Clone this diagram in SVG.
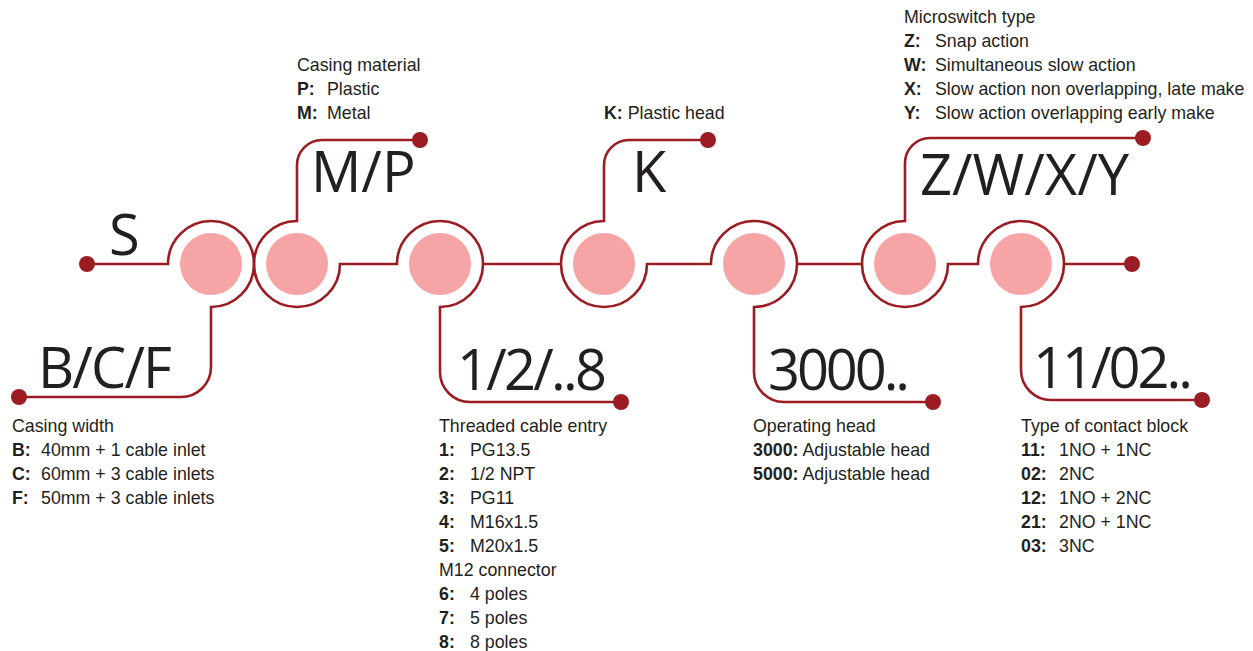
<svg xmlns="http://www.w3.org/2000/svg" width="1253" height="651" viewBox="0 0 1253 651">
  <style>
    .wire { fill: none; stroke: #9b1c23; stroke-width: 2.6; }
    .dot { fill: #9b1c23; }
    .core { fill: #f6a4a6; }
    .code { font-family: "Open Sans", "Liberation Sans", sans-serif; font-size: 56px; fill: #231f20; }
    .desc { font-family: "Liberation Sans", Arial, sans-serif; font-size: 17.8px; fill: #231f20; }
    .key { font-weight: bold; }
  </style>

  <!-- wiring: each run of line includes the ring arcs around the positions -->
  <g id="connectors">
    <path class="wire" d="M87,264 H168 A43,43 0 1 1 211,307 V367 A30,30 0 0 1 181,397 H19"/>
    <path class="wire" d="M420,140 H322 A25,25 0 0 0 297,165 V221 A43,43 0 1 0 340,264 H397 A43,43 0 1 1 440,307 V372 A30,30 0 0 0 470,402 H621"/>
    <path class="wire" d="M483,264 H561"/>
    <path class="wire" d="M708,140 H629 A25,25 0 0 0 604,165 V221 A43,43 0 1 0 647,264 H711 A43,43 0 1 1 754,307 V372 A30,30 0 0 0 784,402 H933"/>
    <path class="wire" d="M797,264 H862"/>
    <path class="wire" d="M1143,138 H930 A25,25 0 0 0 905,163 V221 A43,43 0 1 0 948,264 H978 A43,43 0 1 1 1021,307 V370 A30,30 0 0 0 1051,400 H1202"/>
    <path class="wire" d="M1064,264 H1132"/>
    <circle class="dot" cx="87" cy="264" r="8"/>
    <circle class="dot" cx="19" cy="397" r="8"/>
    <circle class="dot" cx="420" cy="140" r="8"/>
    <circle class="dot" cx="621" cy="402" r="8"/>
    <circle class="dot" cx="708" cy="140" r="8"/>
    <circle class="dot" cx="933" cy="402" r="8"/>
    <circle class="dot" cx="1143" cy="138" r="8"/>
    <circle class="dot" cx="1202" cy="400" r="8"/>
    <circle class="dot" cx="1132" cy="264" r="8"/>
  </g>

  <!-- series prefix -->
  <g id="series">
    <text class="code" x="109" y="255">S</text>
  </g>

  <!-- casing width -->
  <g id="casing-width">
    <circle class="core" cx="211" cy="264" r="31"/>
    <text class="code" x="38" y="388" textLength="134" lengthAdjust="spacing">B/C/F</text>
    <text class="desc" x="12" y="432">Casing width</text>
    <text class="desc" x="12" y="456"><tspan class="key">B:</tspan></text>
    <text class="desc" x="41" y="456">40mm + 1 cable inlet</text>
    <text class="desc" x="12" y="480"><tspan class="key">C:</tspan></text>
    <text class="desc" x="41" y="480">60mm + 3 cable inlets</text>
    <text class="desc" x="12" y="504"><tspan class="key">F:</tspan></text>
    <text class="desc" x="41" y="504">50mm + 3 cable inlets</text>
  </g>

  <!-- casing material -->
  <g id="casing-material">
    <circle class="core" cx="297" cy="264" r="31"/>
    <text class="code" x="311" y="192">M/P</text>
    <text class="desc" x="297" y="71">Casing material</text>
    <text class="desc" x="297" y="95"><tspan class="key">P:</tspan></text>
    <text class="desc" x="327" y="95">Plastic</text>
    <text class="desc" x="297" y="119"><tspan class="key">M:</tspan></text>
    <text class="desc" x="327" y="119">Metal</text>
  </g>

  <!-- threaded cable entry -->
  <g id="cable-entry">
    <circle class="core" cx="440" cy="264" r="31"/>
    <text class="code" x="457" y="390" textLength="150" lengthAdjust="spacing">1/2/..8</text>
    <text class="desc" x="439" y="432">Threaded cable entry</text>
    <text class="desc" x="439" y="456"><tspan class="key">1:</tspan></text>
    <text class="desc" x="470" y="456">PG13.5</text>
    <text class="desc" x="439" y="480"><tspan class="key">2:</tspan></text>
    <text class="desc" x="470" y="480">1/2 NPT</text>
    <text class="desc" x="439" y="504"><tspan class="key">3:</tspan></text>
    <text class="desc" x="470" y="504">PG11</text>
    <text class="desc" x="439" y="528"><tspan class="key">4:</tspan></text>
    <text class="desc" x="470" y="528">M16x1.5</text>
    <text class="desc" x="439" y="552"><tspan class="key">5:</tspan></text>
    <text class="desc" x="470" y="552">M20x1.5</text>
    <text class="desc" x="439" y="576">M12 connector</text>
    <text class="desc" x="439" y="600"><tspan class="key">6:</tspan></text>
    <text class="desc" x="470" y="600">4 poles</text>
    <text class="desc" x="439" y="624"><tspan class="key">7:</tspan></text>
    <text class="desc" x="470" y="624">5 poles</text>
    <text class="desc" x="439" y="648"><tspan class="key">8:</tspan></text>
    <text class="desc" x="470" y="648">8 poles</text>
  </g>

  <!-- head material -->
  <g id="head">
    <circle class="core" cx="604" cy="264" r="31"/>
    <text class="code" x="632" y="192">K</text>
    <text class="desc" x="604" y="119"><tspan class="key">K:</tspan> Plastic head</text>
  </g>

  <!-- operating head -->
  <g id="operating-head">
    <circle class="core" cx="754" cy="264" r="31"/>
    <text class="code" x="768" y="390" textLength="142" lengthAdjust="spacing">3000..</text>
    <text class="desc" x="753" y="432">Operating head</text>
    <text class="desc" x="753" y="456"><tspan class="key">3000:</tspan> Adjustable head</text>
    <text class="desc" x="753" y="480"><tspan class="key">5000:</tspan> Adjustable head</text>
  </g>

  <!-- microswitch type -->
  <g id="microswitch">
    <circle class="core" cx="905" cy="264" r="31"/>
    <text class="code" x="920" y="195">Z/W/X/Y</text>
    <text class="desc" x="904" y="23">Microswitch type</text>
    <text class="desc" x="904" y="47"><tspan class="key">Z:</tspan></text>
    <text class="desc" x="935" y="47">Snap action</text>
    <text class="desc" x="904" y="71"><tspan class="key">W:</tspan></text>
    <text class="desc" x="935" y="71">Simultaneous slow action</text>
    <text class="desc" x="904" y="95"><tspan class="key">X:</tspan></text>
    <text class="desc" x="935" y="95">Slow action non overlapping, late make</text>
    <text class="desc" x="904" y="119"><tspan class="key">Y:</tspan></text>
    <text class="desc" x="935" y="119">Slow action overlapping early make</text>
  </g>

  <!-- contact block -->
  <g id="contact-block">
    <circle class="core" cx="1021" cy="264" r="31"/>
    <text class="code" x="1033" y="388" textLength="160" lengthAdjust="spacing">11/02..</text>
    <text class="desc" x="1021" y="432">Type of contact block</text>
    <text class="desc" x="1021" y="456"><tspan class="key">11:</tspan></text>
    <text class="desc" x="1059" y="456">1NO + 1NC</text>
    <text class="desc" x="1021" y="480"><tspan class="key">02:</tspan></text>
    <text class="desc" x="1059" y="480">2NC</text>
    <text class="desc" x="1021" y="504"><tspan class="key">12:</tspan></text>
    <text class="desc" x="1059" y="504">1NO + 2NC</text>
    <text class="desc" x="1021" y="528"><tspan class="key">21:</tspan></text>
    <text class="desc" x="1059" y="528">2NO + 1NC</text>
    <text class="desc" x="1021" y="552"><tspan class="key">03:</tspan></text>
    <text class="desc" x="1059" y="552">3NC</text>
  </g>
</svg>
